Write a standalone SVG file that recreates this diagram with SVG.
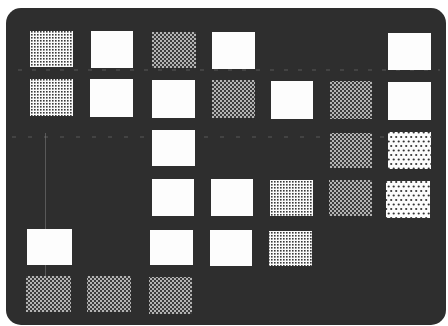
<svg xmlns="http://www.w3.org/2000/svg" width="448" height="326" viewBox="0 0 448 326">
<defs>
<pattern id="grid" patternUnits="userSpaceOnUse" width="3" height="3">
<rect width="3" height="3" fill="#fafafa"/>
<rect x="1" y="1" width="1.6" height="1.6" fill="#3a3a3a"/>
</pattern>
<pattern id="check" patternUnits="userSpaceOnUse" width="4" height="4">
<rect width="4" height="4" fill="#3c3c3c"/>
<rect x="0" y="0" width="2" height="2" fill="#b4b4b4"/>
<rect x="2" y="2" width="2" height="2" fill="#b4b4b4"/>
</pattern>
<pattern id="dots" patternUnits="userSpaceOnUse" width="5" height="9">
<rect width="5" height="9" fill="#fbfbfb"/>
<circle cx="1.2" cy="2" r="1.1" fill="#333"/>
<circle cx="3.7" cy="6.5" r="1.1" fill="#333"/>
</pattern>
<style>
.w{fill:#fdfdfd}
.g{fill:url(#grid)}
.c{fill:url(#check)}
.d{fill:url(#dots)}
.guide{stroke:#8a8a8a;stroke-width:0.8;fill:none;opacity:0.6}
</style>
</defs>
<rect width="448" height="326" fill="#ffffff"/>
<rect id="panel" x="6" y="8" width="440" height="317" rx="15" ry="15" fill="#2e2e2e"/>
<g id="connectors">
<line class="guide" x1="18" y1="70" x2="440" y2="70" stroke-dasharray="4 10"/>
<line class="guide" x1="12" y1="137" x2="440" y2="137" stroke-dasharray="4 12"/>
<line class="guide" x1="45.5" y1="133" x2="45.5" y2="300"/>
</g>
<g id="r1c1"><rect class="g" x="30" y="31" width="43" height="36"/></g>
<g id="r1c2"><rect class="w" x="91" y="31" width="42" height="37"/></g>
<g id="r1c3"><rect class="c" x="152" y="32" width="44" height="36"/></g>
<g id="r1c4"><rect class="w" x="212" y="32" width="43" height="37"/></g>
<g id="r1c7"><rect class="w" x="388" y="33" width="43" height="37"/></g>
<g id="r2c1"><rect class="g" x="30" y="79" width="43" height="37"/></g>
<g id="r2c2"><rect class="w" x="90" y="79" width="43" height="38"/></g>
<g id="r2c3"><rect class="w" x="152" y="80" width="43" height="38"/></g>
<g id="r2c4"><rect class="c" x="212" y="80" width="43" height="38"/></g>
<g id="r2c5"><rect class="w" x="271" y="81" width="42" height="38"/></g>
<g id="r2c6"><rect class="c" x="330" y="81" width="42" height="38"/></g>
<g id="r2c7"><rect class="w" x="388" y="82" width="43" height="38"/></g>
<g id="r3c3"><rect class="w" x="152" y="130" width="43" height="36"/></g>
<g id="r3c6"><rect class="c" x="330" y="133" width="42" height="35"/></g>
<g id="r3c7"><rect class="d" x="388" y="132" width="43" height="37"/></g>
<g id="r4c3"><rect class="w" x="152" y="179" width="42" height="37"/></g>
<g id="r4c4"><rect class="w" x="211" y="179" width="42" height="37"/></g>
<g id="r4c5"><rect class="g" x="270" y="180" width="43" height="36"/></g>
<g id="r4c6"><rect class="c" x="329" y="180" width="43" height="36"/></g>
<g id="r4c7"><rect class="d" x="386" y="181" width="44" height="37"/></g>
<g id="r5c1"><rect class="w" x="27" y="229" width="45" height="36"/></g>
<g id="r5c3"><rect class="w" x="150" y="230" width="43" height="35"/></g>
<g id="r5c4"><rect class="w" x="210" y="230" width="42" height="36"/></g>
<g id="r5c5"><rect class="g" x="269" y="231" width="43" height="35"/></g>
<g id="r6c1"><rect class="c" x="26" y="276" width="45" height="36"/></g>
<g id="r6c2"><rect class="c" x="87" y="276" width="44" height="36"/></g>
<g id="r6c3"><rect class="c" x="149" y="277" width="43" height="37"/></g>
</svg>
